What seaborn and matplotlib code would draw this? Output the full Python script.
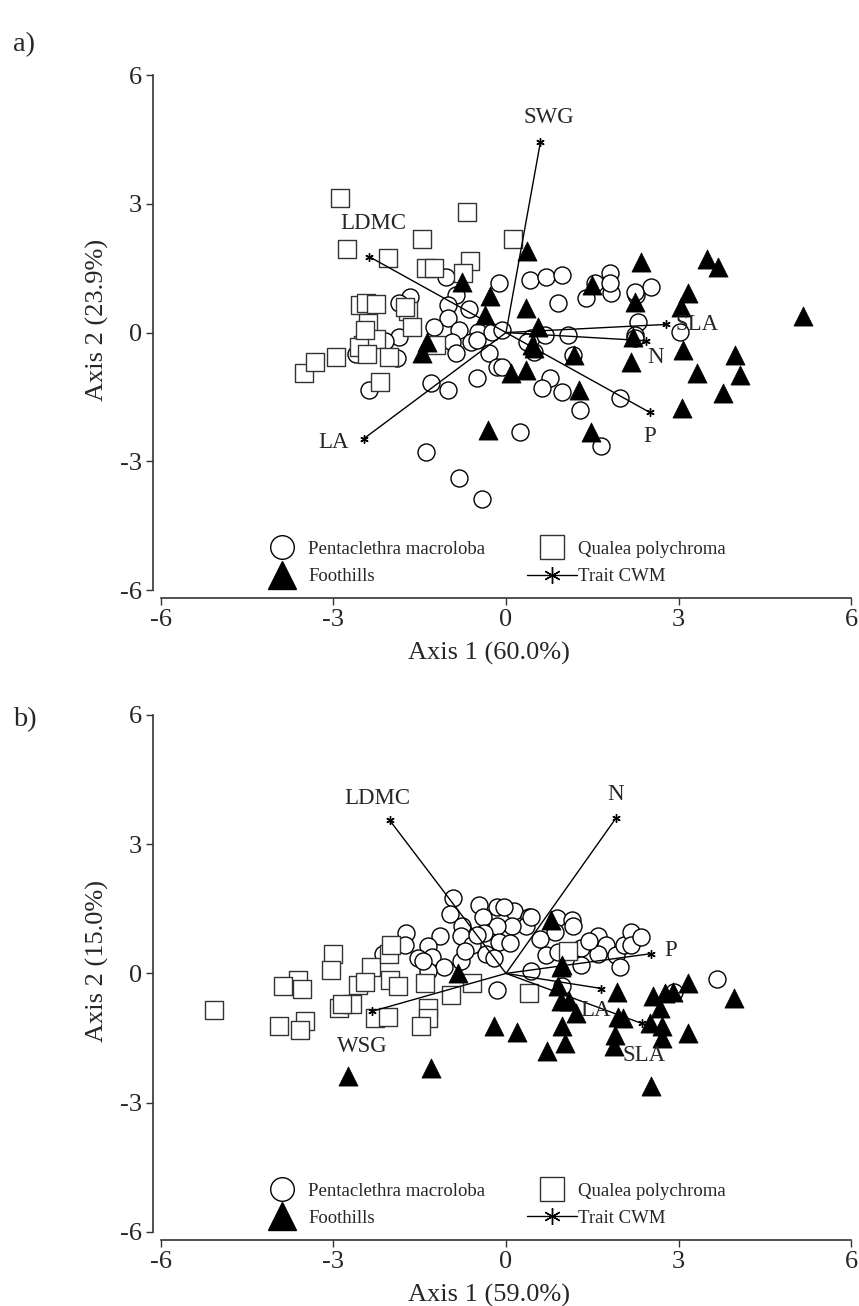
import numpy as np
import pandas as pd
import matplotlib
matplotlib.use("Agg")
import matplotlib.pyplot as plt
import seaborn as sbn
from matplotlib.lines import Line2D

sbn.set_style("ticks")
plt.rcParams['font.family'] = ['Liberation Serif', 'DejaVu Serif']
plt.rcParams['axes.unicode_minus'] = False

# Panel a) site scores read off the ordination

a_pent_x = [-1.05, -0.13, 0.41, 0.69, 0.97, -1.67, -0.87, -1.0, -0.65, -1.0, -1.26, -0.82, -0.48, -0.25,
            -1.86, -0.94, -0.61, 0.44, 0.91, -0.87, -0.51, -0.30, -0.16, -1.31, -1.0, -0.51, -2.38, 0.25,
            -1.39, -0.81, -0.41, 0.77, 1.40, 1.55, 1.81, 1.83, 1.81, 2.26, 2.52, 2.29, -0.07, 0.68, 1.08,
            2.24, 3.02, 2.24, 1.17, 0.48, 0.36, -0.07, 0.62, 0.97, 1.29, 1.98, 1.65, -1.86, -2.1, -2.6,
            -1.9, 2.25]
a_pent_y = [1.29, 1.15, 1.22, 1.29, 1.34, 0.83, 0.87, 0.64, 0.55, 0.34, 0.13, 0.06, 0.01, 0.01,
            -0.10, -0.22, -0.22, -0.13, 0.69, -0.48, -0.17, -0.48, -0.80, -1.18, -1.34, -1.06, -1.34, -2.32,
            -2.79, -3.40, -3.87, -1.06, 0.80, 1.15, 1.39, 0.92, 1.15, 0.87, 1.06, 0.24, 0.06, -0.06, -0.06,
            -0.06, 0.01, -0.13, -0.52, -0.45, -0.22, -0.80, -1.29, -1.38, -1.81, -1.53, -2.64, 0.69, -0.2, -0.5,
            -0.6, 0.95]

a_qual_x = [-2.88, -0.68, -1.46, 0.13, -2.76, -2.05, -1.39, -1.26, -0.62, -0.75, -2.54, -2.44, -2.26, -1.70,
            -1.63, -2.40, -2.48, -2.26, -3.51, -3.33, -2.95, -2.55, -2.41, -2.03, -2.19, -1.22, -1.75, -2.45]
a_qual_y = [3.13, 2.80, 2.18, 2.18, 1.95, 1.74, 1.50, 1.50, 1.67, 1.39, 0.64, 0.69, 0.66, 0.50,
            0.13, 0.22, -0.30, -0.15, -0.94, -0.69, -0.57, -0.34, -0.50, -0.57, -1.15, -0.29, 0.60, 0.05]

a_foot_x = [0.36, -0.76, -0.27, 0.34, -0.36, 0.55, -1.38, -1.46, 0.48, 0.08, 0.34, -0.32, 2.35, 3.49,
            3.68, 3.16, 1.50, 2.24, 3.04, 2.21, 5.17, 1.19, 2.17, 3.07, 3.99, 3.32, 4.07, 3.78, 3.06,
            1.27, 1.48, 0.45]
a_foot_y = [1.90, 1.17, 0.85, 0.57, 0.41, 0.13, -0.22, -0.48, -0.36, -0.94, -0.87, -2.27, 1.64, 1.71,
            1.53, 0.92, 1.11, 0.71, 0.59, -0.10, 0.38, -0.52, -0.69, -0.41, -0.52, -0.94, -0.99, -1.41, -1.76,
            -1.34, -2.32, -0.30]

a_traits = ["SWG", "LDMC", "LA", "SLA", "N", "P"]
a_trait_x = [0.60, -2.38, -2.47, 2.79, 2.43, 2.50]
a_trait_y = [4.45, 1.77, -2.47, 0.19, -0.19, -1.86]
a_label_off = [(6, 17), (3, 24), (-22, -3), (22, 0), (7, -12), (0, -17)]

# Panel b) site scores

b_pent_x = [-0.93, -0.97, -0.47, -0.16, 0.14, 0.40, 0.34, 0.10, -0.16, -0.40, -0.76, -0.78, -0.38, -0.12,
            0.07, -0.59, -0.34, -1.14, -1.74, -1.76, -1.36, -1.29, -1.53, -1.07, -0.78, -0.72, -1.36, -2.14,
            -0.03, 0.43, 0.88, 1.14, 1.17, 0.86, 0.69, 1.31, 1.31, 1.60, 1.74, 1.91, 1.98, 2.05, 2.17, 2.17,
            1.60, 0.43, 3.67, 0.97, 2.93, -0.16, -1.45, -0.50, 0.60, 0.90, 1.45, 2.35, -0.20]
b_pent_y = [1.74, 1.39, 1.58, 1.55, 1.44, 1.30, 1.09, 1.09, 1.09, 1.30, 1.11, 0.86, 0.93, 0.74,
            0.70, 0.67, 0.46, 0.86, 0.93, 0.65, 0.63, 0.39, 0.35, 0.14, 0.28, 0.51, 0.05, 0.46,
            1.55, 1.32, 1.28, 1.23, 1.09, 0.97, 0.42, 0.58, 0.19, 0.86, 0.65, 0.42, 0.16, 0.67, 0.97, 0.65,
            0.44, 0.05, -0.12, -0.30, -0.42, -0.39, 0.30, 0.90, 0.80, 0.50, 0.75, 0.85, 0.35]

b_qual_x = [-5.07, -3.0, -3.05, -3.62, -3.88, -3.55, -3.95, -3.50, -3.59, -2.34, -2.57, -2.45, -2.91, -2.67,
            -2.02, -1.88, -2.28, -2.05, -1.36, -1.36, -1.47, -1.41, -0.95, -0.59, 0.40, -2.03, -2.0, 1.07, -2.85]
b_qual_y = [-0.86, 0.46, 0.07, -0.16, -0.30, -0.37, -1.23, -1.11, -1.32, 0.16, -0.28, -0.19, -0.81, -0.72,
            -0.16, -0.30, -1.04, -1.02, -0.81, -1.04, -1.23, -0.23, -0.51, -0.23, -0.46, 0.46, 0.67, 0.51, -0.72]

b_foot_x = [0.79, 0.97, -0.84, -0.21, 0.19, 0.71, -2.74, -1.31, 0.95, 0.91, 0.95, 1.09, 1.22, 0.97,
            1.03, 1.93, 1.95, 2.03, 1.90, 1.88, 2.55, 2.76, 2.90, 3.17, 3.97, 2.67, 2.50, 2.72, 2.72,
            3.17, 2.52]
b_foot_y = [1.23, 0.19, 0.0, -1.23, -1.37, -1.79, -2.39, -2.20, 0.16, -0.30, -0.63, -0.63, -0.93, -1.23,
            -1.62, -0.42, -1.0, -1.04, -1.44, -1.69, -0.53, -0.46, -0.42, -0.23, -0.58, -0.81, -1.16, -1.23, -1.51,
            -1.39, -2.62]

b_traits = ["LDMC", "N", "P", "WSG", "LA", "SLA"]
b_trait_x = [-2.02, 1.91, 2.53, -2.33, 1.66, 2.36]
b_trait_y = [3.55, 3.60, 0.46, -0.88, -0.35, -1.16]
b_label_off = [(-9, 16), (0, 17), (14, 2), (-7, -25), (-4, -16), (2, -23)]

axis_ticks = [-6, -3, 0, 3, 6]


def draw_panel(ax, pent, qual, foot, traits, tx, ty, offs, xlab, ylab):
    sbn.scatterplot(x=pent[0], y=pent[1], ax=ax, marker="o", s=150, facecolor="white",
                    edgecolor="black", linewidth=1.0, zorder=2)
    sbn.scatterplot(x=qual[0], y=qual[1], ax=ax, marker="s", s=150, facecolor="white",
                    edgecolor="#333333", linewidth=1.0, zorder=3)
    sbn.scatterplot(x=foot[0], y=foot[1], ax=ax, marker="^", s=190, facecolor="black",
                    edgecolor="black", linewidth=0.5, zorder=4)
    for name, x, y, off in zip(traits, tx, ty, offs):
        ax.plot([0, x], [0, y], color="black", lw=1.0, zorder=5)
        ax.plot([x], [y], marker=(6, 2, 0), color="black", ms=6, mew=1.0, zorder=6)
        ax.annotate(name, (x, y), xytext=off, textcoords="offset points",
                    ha="center", va="center", fontsize=16.5, zorder=7)
    ax.set_xlim(-6, 6)
    ax.set_ylim(-6, 6)
    ax.set_xticks(axis_ticks)
    ax.set_yticks(axis_ticks)
    ax.tick_params(labelsize=19, length=5, width=1, color="#333333", pad=2.5)
    ax.set_xlabel(xlab, fontsize=19)
    ax.set_ylabel(ylab, fontsize=19)
    ax.xaxis.set_label_coords(0.476, -0.1)
    ax.yaxis.set_label_coords(-0.075, 0.525)
    for side in ["left", "bottom"]:
        ax.spines[side].set_position(("outward", 6))
        ax.spines[side].set_color("#333333")
        ax.spines[side].set_linewidth(1.2)
    sbn.despine(ax=ax)

    handles = [
        Line2D([], [], ls="none", marker="o", ms=17, mfc="white", mec="black", mew=1.0),
        Line2D([], [], ls="none", marker="^", ms=20, mfc="black", mec="black"),
        Line2D([], [], ls="none", marker="s", ms=17, mfc="white", mec="#333333", mew=1.0),
        Line2D([], [], color="black", lw=1.0, marker=(6, 2, 0), ms=12, mew=1.0),
    ]
    labels = ["Pentaclethra macroloba", "Foothills", "Qualea polychroma", "Trait CWM"]
    ax.legend(handles, labels, ncol=2, frameon=False, fontsize=13.5, loc="lower left",
              bbox_to_anchor=(0.128, -0.005), handlelength=2.7, handletextpad=0.05,
              columnspacing=2.2, labelspacing=0.55, borderaxespad=0.0)


fig = plt.figure(figsize=(8.59, 13.06), dpi=100)
ax1 = fig.add_axes([0.1874, 0.5482, 0.8033, 0.3943])
ax2 = fig.add_axes([0.1874, 0.0567, 0.8033, 0.3959])

draw_panel(ax1, (a_pent_x, a_pent_y), (a_qual_x, a_qual_y), (a_foot_x, a_foot_y),
           a_traits, a_trait_x, a_trait_y, a_label_off, "Axis 1 (60.0%)", "Axis 2 (23.9%)")
draw_panel(ax2, (b_pent_x, b_pent_y), (b_qual_x, b_qual_y), (b_foot_x, b_foot_y),
           b_traits, b_trait_x, b_trait_y, b_label_off, "Axis 1 (59.0%)", "Axis 2 (15.0%)")

fig.text(0.015, 0.966, "a)", fontsize=20.5, va="center")
fig.text(0.015, 0.449, "b)", fontsize=20.5, va="center")

fig.savefig("out.png", dpi=100)
